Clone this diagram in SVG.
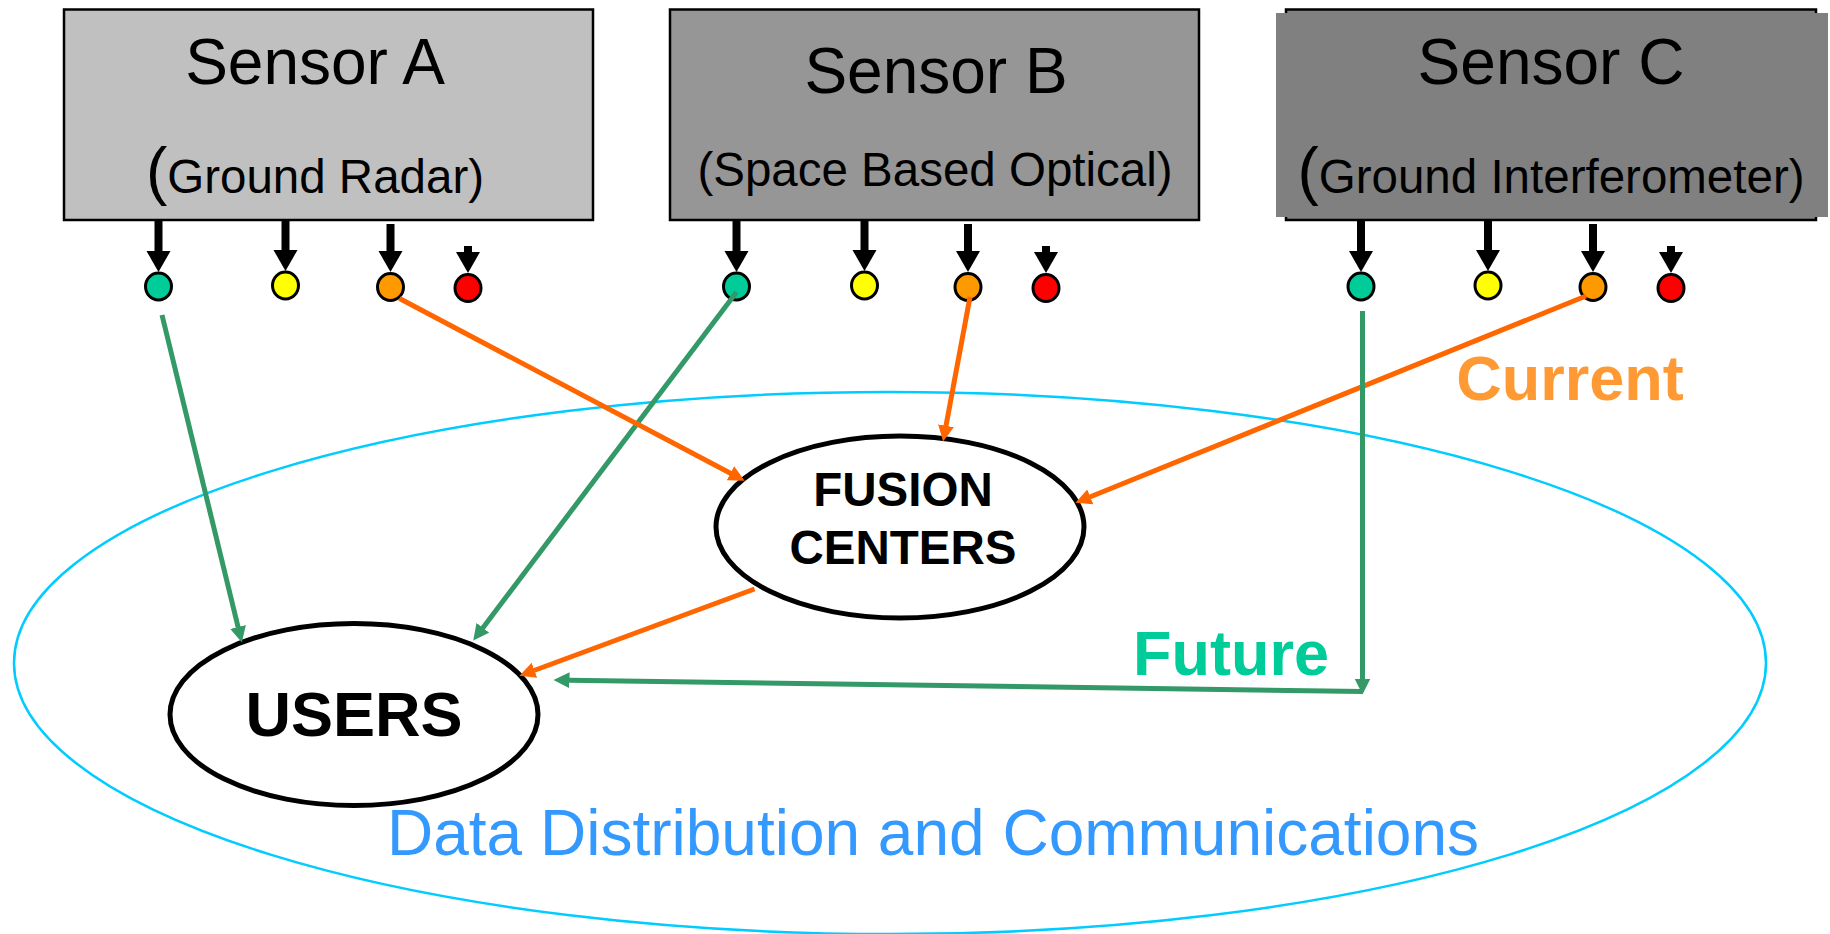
<svg xmlns="http://www.w3.org/2000/svg" width="1830" height="934" viewBox="0 0 1830 934">
<style>
text{font-family:"Liberation Sans",Arial,Helvetica,sans-serif}
.box{stroke:#000;stroke-width:2.5}
.t1{font-size:64px;text-anchor:middle;fill:#000}
.t2{font-size:47.5px;text-anchor:middle;fill:#000}
.big{font-size:64px}
.blk{stroke:#000;stroke-width:8;fill:none}
.dot{stroke:#000;stroke-width:3}
.node{fill:#fff;stroke:#000;stroke-width:5}
.bold{font-weight:bold;text-anchor:middle;fill:#000}
.g{stroke:#339966;stroke-width:5;fill:none;marker-end:url(#ag)}
.o{stroke:#ff6600;stroke-width:5;fill:none;marker-end:url(#ao)}
</style>
<defs>
<marker id="ab" markerUnits="userSpaceOnUse" markerWidth="26" markerHeight="26" viewBox="0 0 26 26" refX="1" refY="12" orient="auto"><path d="M0,0 L21,12 L0,24 z" fill="#000"/></marker>
<marker id="ag" markerUnits="userSpaceOnUse" markerWidth="18" markerHeight="18" viewBox="0 0 18 18" refX="0.5" refY="8" orient="auto"><path d="M0,0 L16,8 L0,16 z" fill="#339966"/></marker>
<marker id="ao" markerUnits="userSpaceOnUse" markerWidth="18" markerHeight="18" viewBox="0 0 18 18" refX="0.5" refY="8" orient="auto"><path d="M0,0 L16,8 L0,16 z" fill="#ff6600"/></marker>
</defs>
<rect width="1830" height="934" fill="#fff"/>
<g id="comms">
<ellipse cx="890" cy="663" rx="876" ry="271" fill="none" stroke="#00ccff" stroke-width="2.5"/>
<text x="933" y="855" font-size="64" text-anchor="middle" fill="#3399ff">Data Distribution and Communications</text>
</g>
<g id="sensorA">
<rect class="box" x="64" y="9.5" width="529" height="210.5" fill="#c0c0c0"/>
<text class="t1" x="315" y="84">Sensor A</text>
<text class="t2" x="315" y="193"><tspan class="big">(</tspan>Ground Radar)</text>
</g>
<g id="sensorB">
<rect class="box" x="670" y="9.5" width="529" height="210.5" fill="#969696"/>
<text class="t1" x="936" y="93">Sensor B</text>
<text class="t2" x="935" y="186">(Space Based Optical)</text>
</g>
<g id="sensorC">
<rect class="box" x="1286" y="9.5" width="530" height="210.5" fill="#808080"/>
<rect x="1276" y="13" width="552" height="204" fill="#808080"/>
<text class="t1" x="1551" y="84">Sensor C</text>
<text class="t2" x="1551" y="193"><tspan class="big">(</tspan>Ground Interferometer)</text>
</g>
<g id="outputsA">
<ellipse class="dot" cx="158.5" cy="286.5" rx="13" ry="13.5" fill="#00cc99"/>
<ellipse class="dot" cx="285.5" cy="285.5" rx="13" ry="13.5" fill="#ffff00"/>
<ellipse class="dot" cx="390.5" cy="287" rx="13" ry="13.5" fill="#ff9900"/>
<ellipse class="dot" cx="468" cy="288" rx="13" ry="13.5" fill="#ff0000"/>
</g>
<g id="outputsB">
<ellipse class="dot" cx="736.5" cy="286.5" rx="13" ry="13.5" fill="#00cc99"/>
<ellipse class="dot" cx="864.5" cy="285.5" rx="13" ry="13.5" fill="#ffff00"/>
<ellipse class="dot" cx="968" cy="287" rx="13" ry="13.5" fill="#ff9900"/>
<ellipse class="dot" cx="1046" cy="288" rx="13" ry="13.5" fill="#ff0000"/>
</g>
<g id="outputsC">
<ellipse class="dot" cx="1361" cy="286.5" rx="13" ry="13.5" fill="#00cc99"/>
<ellipse class="dot" cx="1488" cy="285.5" rx="13" ry="13.5" fill="#ffff00"/>
<ellipse class="dot" cx="1593" cy="287" rx="13" ry="13.5" fill="#ff9900"/>
<ellipse class="dot" cx="1671" cy="288" rx="13" ry="13.5" fill="#ff0000"/>
</g>
<g id="fusion">
<ellipse class="node" cx="900" cy="527" rx="184" ry="91"/>
<text class="bold" x="903" y="506" font-size="47.5">FUSION</text>
<text class="bold" x="903" y="564" font-size="47.5">CENTERS</text>
</g>
<g id="users">
<ellipse class="node" cx="354" cy="714.5" rx="184" ry="91"/>
<text class="bold" x="354" y="736" font-size="63">USERS</text>
</g>
<g id="labels">
<text x="1570" y="400" font-size="63" font-weight="bold" text-anchor="middle" fill="#ff9933">Current</text>
<text x="1231" y="675" font-size="63" font-weight="bold" text-anchor="middle" fill="#00cc99">Future</text>
</g>
<g id="connectors">
<path class="blk" marker-end="url(#ab)" d="M158.5,220 V252"/>
<path class="blk" marker-end="url(#ab)" d="M285.5,220 V251"/>
<path class="blk" marker-end="url(#ab)" d="M390.5,224 V252"/>
<path class="blk" marker-end="url(#ab)" d="M468,246 V253"/>
<path class="blk" marker-end="url(#ab)" d="M736.5,220 V252"/>
<path class="blk" marker-end="url(#ab)" d="M864.5,220 V251"/>
<path class="blk" marker-end="url(#ab)" d="M968,224 V252"/>
<path class="blk" marker-end="url(#ab)" d="M1046,246 V253"/>
<path class="blk" marker-end="url(#ab)" d="M1361,220 V252"/>
<path class="blk" marker-end="url(#ab)" d="M1488,220 V251"/>
<path class="blk" marker-end="url(#ab)" d="M1593,224 V252"/>
<path class="blk" marker-end="url(#ab)" d="M1671,246 V253"/>
<path class="g" d="M162,315 L238.2,627.5"/>
<path class="g" d="M736.6,292 L482.6,628.2"/>
<path class="o" d="M399.5,298.5 L730.9,473.5"/>
<path class="o" d="M970,297 L945.9,426.3"/>
<path class="o" d="M1586,296 L1089.8,497"/>
<path class="o" d="M754.5,589 L534,670.5"/>
<path class="g" d="M1362.5,311 V679"/>
<path class="g" d="M1362.5,691.5 L569,680.2"/>
</g>
</svg>
